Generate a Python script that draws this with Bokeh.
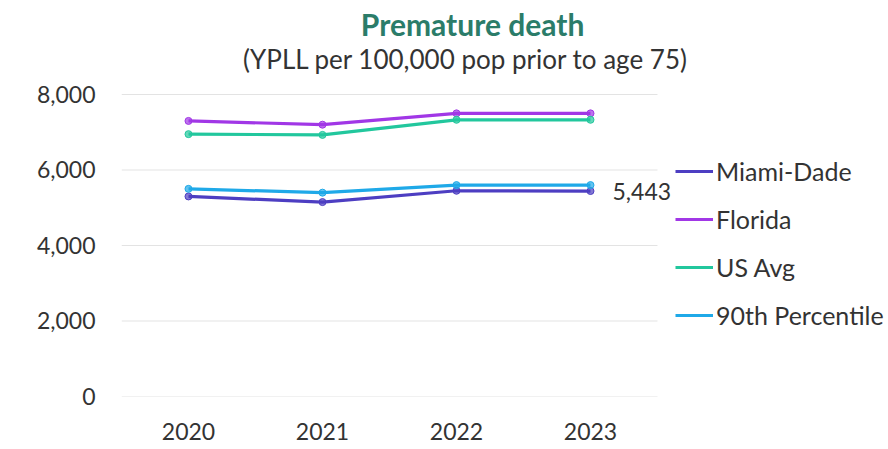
from bokeh.plotting import figure
from bokeh.models import Range1d, FixedTicker, NumeralTickFormatter, Legend, LegendItem, Label, ColumnDataSource
from bokeh.embed import file_html
from bokeh.resources import INLINE

years = [2020, 2021, 2022, 2023]
miami_dade = [5300, 5150, 5450, 5443]
florida = [7300, 7200, 7500, 7500]
us_avg = [6950, 6930, 7330, 7330]
pct90 = [5500, 5400, 5600, 5600]
series_names = ["Miami-Dade", "Florida", "US Avg", "90th Percentile"]
series_colors = ["#4d3ec2", "#a137e6", "#22c79d", "#1fa9e8"]
y_ticks = [0, 2000, 4000, 6000, 8000]
title_text = "Premature death"
subtitle_text = "(YPLL per 100,000 pop prior to age 75)"
label_text = "5,443"

FONT = "Lato"
TXT = "#333333"

# frame covers plot area plus the title/legend region (extended ranges)
x_lo, x_hi = years[0] - 0.5, years[-1] + 0.5
p = figure(width=888, height=449, output_backend="svg", toolbar_location=None,
           x_range=Range1d(x_lo, 2025.224), y_range=Range1d(0, 10490),
           min_border_left=121, min_border_right=0, min_border_top=0, min_border_bottom=53)
p.outline_line_color = None
p.background_fill_color = "white"
p.border_fill_color = "white"

# horizontal gridlines limited to the category span
p.segment(x0=[x_lo] * len(y_ticks), x1=[x_hi] * len(y_ticks), y0=y_ticks, y1=y_ticks,
          line_color="#e3e3e3", line_width=1)

items = []
for vals, name, col in zip([miami_dade, florida, us_avg, pct90], series_names, series_colors):
    src = ColumnDataSource(dict(x=years, y=vals))
    r = p.line("x", "y", source=src, line_color=col, line_width=3.2)
    p.scatter("x", "y", source=src, marker="circle", size=7, fill_color=col, line_color=col, fill_alpha=0.7)
    items.append(LegendItem(label=name, renderers=[r]))

legend = Legend(items=items, location=(554, 66), orientation="vertical",
                padding=0, margin=0, spacing=18, glyph_width=38, glyph_height=30, label_height=30,
                label_standoff=3, label_text_font=FONT, label_text_font_size="25px",
                label_text_color=TXT, border_line_color=None, background_fill_alpha=0)
p.add_layout(legend, "center")

p.xaxis.ticker = FixedTicker(ticks=years)
p.yaxis.ticker = FixedTicker(ticks=y_ticks)
p.yaxis.formatter = NumeralTickFormatter(format="0,0")
for ax in [p.xaxis[0], p.yaxis[0]]:
    ax.axis_line_color = None
    ax.major_tick_line_color = None
    ax.minor_tick_line_color = None
    ax.major_tick_out = 0
    ax.major_tick_in = 0
    ax.major_label_text_font = FONT
    ax.major_label_text_font_size = "23px"
    ax.major_label_text_color = TXT
p.xaxis.major_label_standoff = 26
p.yaxis.major_label_standoff = 26
p.xgrid.grid_line_color = None
p.ygrid.grid_line_color = None

p.add_layout(Label(x=2023, y=5443, text=label_text, x_offset=22, text_baseline="middle",
                   text_font=FONT, text_font_size="23px", text_color=TXT))
p.add_layout(Label(x=2022.12, y=9860, text=title_text, text_align="center", text_baseline="middle",
                   text_font=FONT, text_font_size="30px", text_font_style="bold", text_color="#2b7c69"))
p.add_layout(Label(x=2022.07, y=8950, text=subtitle_text, text_align="center", text_baseline="middle",
                   text_font=FONT, text_font_size="26px", text_color=TXT))

open("out.html", "w").write(file_html(p, INLINE))
